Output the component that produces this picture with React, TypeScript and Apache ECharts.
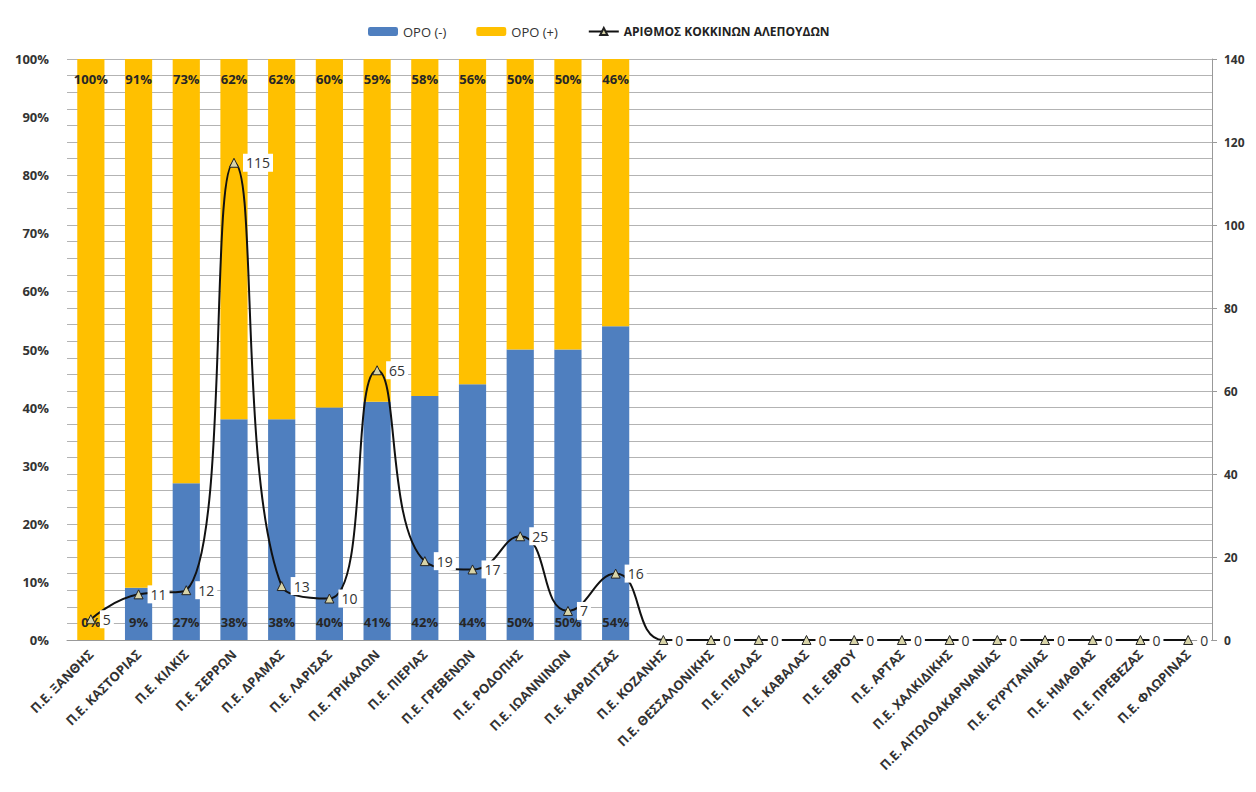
import React, { useEffect, useRef } from "react";
import * as echarts from "echarts";

const categories = [
  "Π.Ε. ΞΑΝΘΗΣ", "Π.Ε. ΚΑΣΤΟΡΙΑΣ", "Π.Ε. ΚΙΛΚΙΣ", "Π.Ε. ΣΕΡΡΩΝ", "Π.Ε. ΔΡΑΜΑΣ",
  "Π.Ε. ΛΑΡΙΣΑΣ", "Π.Ε. ΤΡΙΚΑΛΩΝ", "Π.Ε. ΠΙΕΡΙΑΣ", "Π.Ε. ΓΡΕΒΕΝΩΝ", "Π.Ε. ΡΟΔΟΠΗΣ",
  "Π.Ε. ΙΩΑΝΝΙΝΩΝ", "Π.Ε. ΚΑΡΔΙΤΣΑΣ", "Π.Ε. ΚΟΖΑΝΗΣ", "Π.Ε. ΘΕΣΣΑΛΟΝΙΚΗΣ", "Π.Ε. ΠΕΛΛΑΣ",
  "Π.Ε. ΚΑΒΑΛΑΣ", "Π.Ε. ΕΒΡΟΥ", "Π.Ε. ΑΡΤΑΣ", "Π.Ε. ΧΑΛΚΙΔΙΚΗΣ", "Π.Ε. ΑΙΤΩΛΟΑΚΑΡΝΑΝΙΑΣ",
  "Π.Ε. ΕΥΡΥΤΑΝΙΑΣ", "Π.Ε. ΗΜΑΘΙΑΣ", "Π.Ε. ΠΡΕΒΕΖΑΣ", "Π.Ε. ΦΛΩΡΙΝΑΣ",
];
const seroNegative = [0, 9, 27, 38, 38, 40, 41, 42, 44, 50, 50, 54];
const seroPositive = [100, 91, 73, 62, 62, 60, 59, 58, 56, 50, 50, 46];
const foxCounts = [5, 11, 12, 115, 13, 10, 65, 19, 17, 25, 7, 16, 0, 0, 0, 0, 0, 0, 0, 0, 0, 0, 0, 0];

const seriesNames = ["ΟΡΟ (-)", "ΟΡΟ (+)", "ΑΡΙΘΜΟΣ ΚΟΚΚΙΝΩΝ ΑΛΕΠΟΥΔΩΝ"];
const FONT = "Open Sans";

export default function App() {
  const ref = useRef<HTMLDivElement>(null);
  useEffect(() => {
    if (!ref.current) return;
    const chart = echarts.init(ref.current, null, { renderer: "svg" });
    chart.setOption({
      animation: false,
      backgroundColor: "#ffffff",
      textStyle: { fontFamily: FONT },
      legend: {
        top: 20,
        left: 363,
        itemGap: 30,
        itemWidth: 30,
        itemHeight: 9,
        textStyle: { fontFamily: FONT, fontSize: 13, color: "#333" },
        data: [
          { name: seriesNames[0] },
          { name: seriesNames[1] },
          { name: seriesNames[2], textStyle: { fontWeight: "bold", color: "#222", fontSize: 12 } },
        ],
      },
      grid: { left: 67, right: 44, top: 59, bottom: 152 },
      xAxis: {
        type: "category",
        data: categories,
        axisLine: { lineStyle: { color: "#999" } },
        axisTick: { show: false },
        axisLabel: {
          rotate: 45,
          interval: 0,
          margin: 12,
          fontFamily: FONT,
          fontSize: 13,
          fontWeight: "bold",
          color: "#333",
        },
      },
      yAxis: [
        {
          type: "value",
          min: 0,
          max: 100,
          interval: 10,
          position: "left",
          axisLine: { show: false },
          axisTick: { show: false },
          splitLine: { show: false },
          axisLabel: {
            formatter: "{value}%",
            margin: 18,
            fontFamily: FONT,
            fontSize: 13,
            fontWeight: "bold",
            color: "#333",
          },
        },
        {
          type: "value",
          min: 0,
          max: 140,
          interval: 20,
          position: "right",
          axisLine: { show: true, lineStyle: { color: "#999" } },
          axisTick: { show: true, length: 5, lineStyle: { color: "#999" } },
          splitLine: { show: true, lineStyle: { color: "#b3b3b3", width: 1 } },
          minorTick: { show: false, splitNumber: 5 },
          minorSplitLine: { show: true, lineStyle: { color: "#b3b3b3", width: 1 } },
          axisLabel: {
            margin: 12,
            fontFamily: FONT,
            fontSize: 12,
            fontWeight: "bold",
            color: "#333",
          },
        },
      ],
      series: [
        {
          name: seriesNames[0],
          type: "bar",
          stack: "sero",
          barWidth: "57%",
          data: seroNegative,
          itemStyle: { color: "#4F7FBF" },
          label: {
            show: true,
            position: "insideBottom",
            distance: 12,
            formatter: (p: any) => p.value + "%",
            fontFamily: FONT,
            fontSize: 13,
            fontWeight: "bold",
            color: "#262626",
          },
          z: 2,
        },
        {
          name: seriesNames[1],
          type: "bar",
          stack: "sero",
          barWidth: "57%",
          data: seroPositive,
          itemStyle: { color: "#FFC000" },
          label: {
            show: true,
            position: "insideTop",
            distance: 13,
            formatter: (p: any) => p.value + "%",
            fontFamily: FONT,
            fontSize: 13,
            fontWeight: "bold",
            color: "#262626",
          },
          z: 2,
        },
        {
          name: seriesNames[2],
          type: "line",
          yAxisIndex: 1,
          data: foxCounts,
          smooth: 0.5,
          symbol: "triangle",
          symbolSize: 9,
          lineStyle: { color: "#111", width: 2 },
          itemStyle: { color: "#d8d4a8", borderColor: "#222", borderWidth: 1 },
          label: {
            show: true,
            position: "right",
            distance: 4,
            fontFamily: FONT,
            fontSize: 14,
            color: "#333",
            backgroundColor: "#ffffff",
            padding: [2, 3],
          },
          z: 5,
        },
      ],
    });
    return () => chart.dispose();
  }, []);
  return (
    <div
      ref={ref}
      style={{ position: "absolute", left: 0, top: 0, width: 1256, height: 792 }}
    />
  );
}
